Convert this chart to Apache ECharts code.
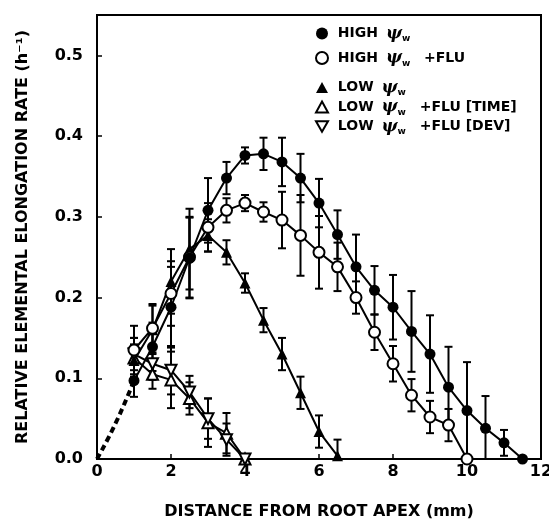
<!DOCTYPE html>
<html>
<head>
<meta charset="utf-8">
<script src="https://cdn.jsdelivr.net/npm/echarts@6/dist/echarts.min.js"></script>
<style>
  html, body { margin: 0; padding: 0; background: #fff; }
  #main { width: 549px; height: 521px; }
</style>
</head>
<body>
<div id="main"></div>
<script>
// HIGH psi_w
var highX   = [1, 1.5, 2, 2.5, 3, 3.5, 4, 4.5, 5, 5.5, 6, 6.5, 7, 7.5, 8, 8.5, 9, 9.5, 10, 10.5, 11, 11.5];
var highY   = [0.097, 0.139, 0.188, 0.249, 0.308, 0.348, 0.376, 0.378, 0.368, 0.348, 0.317, 0.278, 0.238, 0.209, 0.188, 0.158, 0.13, 0.089, 0.06, 0.038, 0.02, 0.0];
var highErr = [0.02, 0.03, 0.05, 0.05, 0.04, 0.02, 0.01, 0.02, 0.03, 0.03, 0.03, 0.03, 0.04, 0.03, 0.04, 0.05, 0.048, 0.05, 0.06, 0.04, 0.016, 0.0];

// HIGH psi_w + FLU
var fluX   = [1, 1.5, 2, 2.5, 3, 3.5, 4, 4.5, 5, 5.5, 6, 6.5, 7, 7.5, 8, 8.5, 9, 9.5, 10];
var fluY   = [0.135, 0.162, 0.205, 0.25, 0.287, 0.308, 0.317, 0.306, 0.296, 0.277, 0.256, 0.238, 0.2, 0.157, 0.118, 0.079, 0.052, 0.042, 0.0];
var fluErr = [0.03, 0.03, 0.04, 0.05, 0.03, 0.015, 0.01, 0.012, 0.035, 0.05, 0.045, 0.03, 0.02, 0.022, 0.022, 0.02, 0.02, 0.02, 0.0];

// LOW psi_w
var lowX   = [1, 1.5, 2, 2.5, 3, 3.5, 4, 4.5, 5, 5.5, 6, 6.5];
var lowY   = [0.122, 0.16, 0.22, 0.26, 0.277, 0.256, 0.218, 0.172, 0.13, 0.082, 0.034, 0.004];
var lowErr = [0.02, 0.03, 0.04, 0.05, 0.02, 0.015, 0.012, 0.015, 0.02, 0.02, 0.02, 0.02];

// LOW psi_w + FLU [TIME]
var timeX   = [1, 1.5, 2, 2.5, 3, 3.5, 4];
var timeY   = [0.125, 0.105, 0.098, 0.075, 0.045, 0.032, 0.0];
var timeErr = [0.025, 0.018, 0.035, 0.02, 0.03, 0.025, 0.0];

// LOW psi_w + FLU [DEV]
var devX   = [1, 1.5, 2, 2.5, 3, 3.5, 4];
var devY   = [0.13, 0.118, 0.11, 0.083, 0.05, 0.024, 0.0];
var devErr = [0.02, 0.02, 0.03, 0.02, 0.025, 0.02, 0.0];

// extrapolation to the origin
var extX = [0, 0.5, 1];
var extY = [0, 0.044, 0.097];

var FONT = 'DejaVu Sans';
var downTri = 'path://M0,0 L12,0 L6,10.4 Z';

function pairs(xs, ys) {
  var out = [];
  for (var i = 0; i < xs.length; i++) out.push([xs[i], ys[i]]);
  return out;
}
function errData(xs, ys, es) {
  var out = [];
  for (var i = 0; i < xs.length; i++) {
    if (es[i] > 0) out.push([xs[i], Math.max(0, ys[i] - es[i]), ys[i] + es[i]]);
  }
  return out;
}
function errSeries(xs, ys, es) {
  return {
    type: 'custom',
    silent: true,
    z: 1,
    data: errData(xs, ys, es),
    renderItem: function (params, api) {
      var lo = api.coord([api.value(0), api.value(1)]);
      var hi = api.coord([api.value(0), api.value(2)]);
      var w = 4;
      var st = { stroke: '#000', lineWidth: 2 };
      return {
        type: 'group',
        children: [
          { type: 'line', shape: { x1: lo[0], y1: lo[1], x2: hi[0], y2: hi[1] }, style: st },
          { type: 'line', shape: { x1: lo[0] - w, y1: lo[1], x2: lo[0] + w, y2: lo[1] }, style: st },
          { type: 'line', shape: { x1: hi[0] - w, y1: hi[1], x2: hi[0] + w, y2: hi[1] }, style: st }
        ]
      };
    }
  };
}
function lineSeries(name, xs, ys, symbol, filled) {
  return {
    name: name,
    type: 'line',
    z: 3,
    data: pairs(xs, ys),
    symbol: symbol,
    symbolSize: 11,
    showAllSymbol: true,
    lineStyle: { color: '#000', width: 2 },
    itemStyle: { color: filled ? '#000' : '#fff', borderColor: '#000', borderWidth: filled ? 0 : 2, opacity: 1 },
    emphasis: { disabled: true }
  };
}

var richLegend = {
  t: { fontFamily: FONT, fontWeight: 'bold', fontSize: 14, color: '#000' },
  p: { fontFamily: 'DejaVu Serif', fontStyle: 'italic', fontWeight: 'bold', fontSize: 17, color: '#000', padding: [0, 0, 0, 3] },
  w: { fontFamily: FONT, fontWeight: 'bold', fontSize: 9, color: '#000', verticalAlign: 'bottom', padding: [11, 9, 0, 0] }
};
function legendFmt(name) {
  var parts = name.split('ψw');
  var s = '{t| ' + parts[0] + '}{p|ψ}{w|w}';
  if (parts[1]) s += '{t|' + parts[1] + '}';
  return s;
}

var myChart = echarts.init(document.getElementById('main'));
var option = {
  backgroundColor: '#fff',
  animation: false,
  grid: {
    left: 97, right: 8, top: 15, bottom: 62,
    outerBoundsMode: 'none',
    show: true, borderColor: '#000', borderWidth: 2, backgroundColor: 'transparent'
  },
  legend: [
    {
      data: [
        { name: 'HIGH ψw', icon: 'circle' },
        { name: 'HIGH ψw +FLU', icon: 'circle' }
      ],
      orient: 'vertical', left: 310, top: 20, itemGap: 6,
      itemWidth: 12, itemHeight: 12,
      formatter: legendFmt,
      textStyle: { rich: richLegend },
      selectedMode: false
    },
    {
      data: [
        { name: 'LOW ψw', icon: 'triangle' },
        { name: 'LOW ψw +FLU [TIME]', icon: 'triangle' },
        { name: 'LOW ψw +FLU [DEV]', icon: downTri }
      ],
      orient: 'vertical', left: 310, top: 74, itemGap: 1,
      itemWidth: 12, itemHeight: 11,
      formatter: legendFmt,
      textStyle: { rich: richLegend },
      selectedMode: false
    }
  ],
  xAxis: {
    type: 'value', min: 0, max: 12, interval: 2,
    name: 'DISTANCE FROM ROOT APEX (mm)',
    nameLocation: 'middle', nameGap: 45,
    nameTextStyle: { fontFamily: FONT, fontWeight: 'bold', fontSize: 16, color: '#000' },
    axisLine: { lineStyle: { color: '#000', width: 2 } },
    axisTick: { inside: true, length: 5, lineStyle: { color: '#000', width: 1.5 } },
    axisLabel: { fontFamily: FONT, fontWeight: 'bold', fontSize: 16, color: '#000', margin: 5 },
    splitLine: { show: false }
  },
  yAxis: {
    type: 'value', min: 0, max: 0.55, interval: 0.1,
    name: 'RELATIVE ELEMENTAL ELONGATION RATE (h⁻¹)',
    nameLocation: 'middle', nameGap: 66, nameRotate: 90,
    nameTextStyle: { fontFamily: FONT, fontWeight: 'bold', fontSize: 16, color: '#000' },
    axisLine: { lineStyle: { color: '#000', width: 2 } },
    axisTick: { inside: true, length: 5, lineStyle: { color: '#000', width: 1.5 } },
    axisLabel: {
      fontFamily: FONT, fontWeight: 'bold', fontSize: 16, color: '#000', margin: 14,
      showMaxLabel: false,
      formatter: function (v) { return v.toFixed(1); }
    },
    splitLine: { show: false }
  },
  series: [
    {
      type: 'line', data: pairs(extX, extY), symbol: 'none', smooth: true, z: 2,
      lineStyle: { color: '#000', width: 4, type: [6, 4] }, silent: true
    },
    errSeries(highX, highY, highErr),
    errSeries(fluX, fluY, fluErr),
    errSeries(lowX, lowY, lowErr),
    errSeries(timeX, timeY, timeErr),
    errSeries(devX, devY, devErr),
    lineSeries('LOW ψw +FLU [TIME]', timeX, timeY, 'triangle', false),
    lineSeries('LOW ψw +FLU [DEV]', devX, devY, downTri, false),
    lineSeries('LOW ψw', lowX, lowY, 'triangle', true),
    lineSeries('HIGH ψw +FLU', fluX, fluY, 'circle', false),
    lineSeries('HIGH ψw', highX, highY, 'circle', true)
  ]
};
myChart.setOption(option);
</script>
</body>
</html>
